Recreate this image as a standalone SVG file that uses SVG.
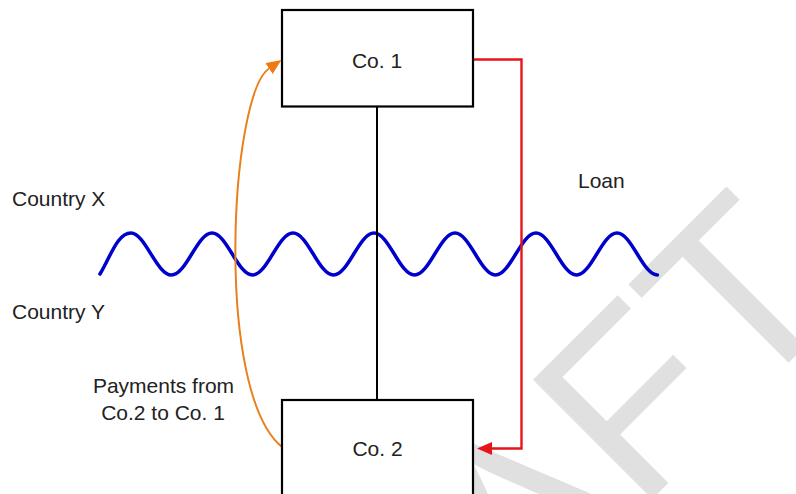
<svg xmlns="http://www.w3.org/2000/svg" width="796" height="494" viewBox="0 0 796 494">
<style>
.lbl{font-family:"Liberation Sans",Arial,sans-serif;font-size:21px;fill:#222}
.box{fill:#fff;stroke:#000;stroke-width:2.2}
</style>
<defs>
<marker id="arrRed" markerUnits="userSpaceOnUse" markerWidth="16" markerHeight="14" refX="0" refY="6.5" orient="auto">
<path d="M0,0 L15,6.5 L0,13 z" fill="#e8141c"/>
</marker>
<marker id="arrOrange" markerUnits="userSpaceOnUse" markerWidth="16" markerHeight="14" refX="0" refY="6.5" orient="auto">
<path d="M0,0 L15,6.5 L0,13 z" fill="#f07a12"/>
</marker>
</defs>
<rect width="796" height="494" fill="#fff"/>
<g id="watermark">
<text transform="translate(272.2,879.1) rotate(-45)" font-family="Liberation Sans,Arial,sans-serif" font-size="245" fill="#e0e0e0">DRAFT</text>
</g>
<g id="border-wave">
<path d="M100,274 C110,258 117,233 131,233 S156.7,275 171.5,275 S197.2,233 212,233 S237.7,275 252.5,275 S278.2,233 293,233 S318.7,275 333.5,275 S359.2,233 374,233 S399.7,275 414.5,275 S440.2,233 455,233 S480.7,275 495.5,275 S521.2,233 536,233 S561.7,275 576.5,275 S602.2,233 617,233 S642.7,275 657.5,275" fill="none" stroke="#0000cc" stroke-width="3.5" stroke-linecap="round"/>
</g>
<g id="connectors" fill="none">
<line x1="377" y1="107" x2="377" y2="400" stroke="#000" stroke-width="2"/>
<path d="M473,59.5 H521.5 V448.5 H492" stroke="#e8141c" stroke-width="2.4" marker-end="url(#arrRed)"/>
<path d="M282,447 C214,392 230,95 269,68.5" stroke="#e8801e" stroke-width="2" marker-end="url(#arrOrange)"/>
</g>
<g id="co1">
<rect class="box" x="282" y="10" width="191" height="96.5"/>
<text class="lbl" x="377" y="68" text-anchor="middle">Co. 1</text>
</g>
<g id="co2">
<rect class="box" x="282" y="400" width="191" height="100"/>
<text class="lbl" x="377.5" y="456" text-anchor="middle">Co. 2</text>
</g>
<g id="labels">
<text class="lbl" x="12" y="206">Country X</text>
<text class="lbl" x="12" y="319">Country Y</text>
<text class="lbl" x="578" y="188">Loan</text>
<text class="lbl" x="163.5" y="393" text-anchor="middle">Payments from</text>
<text class="lbl" x="163" y="420" text-anchor="middle">Co.2 to Co. 1</text>
</g>
</svg>
